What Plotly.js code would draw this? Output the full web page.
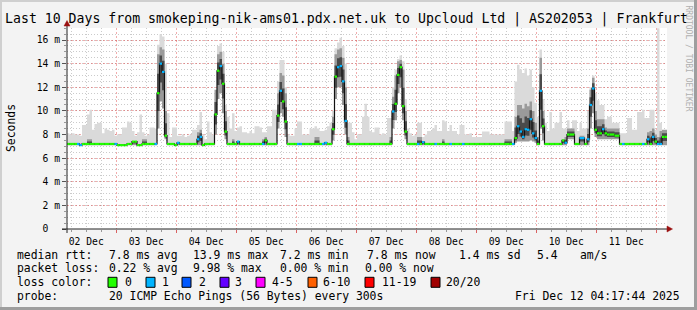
<!DOCTYPE html>
<html>
<head>
<meta charset="utf-8">
<script src="https://cdn.plot.ly/plotly-3.0.1.min.js"></script>
<style>
html,body{margin:0;padding:0;background:#f3f3f3;}
#chart{width:697px;height:310px;}
</style>
</head>
<body>
<div id="chart"></div>
<script>
// ---------- data (hourly steps starting Fri Dec 02 04:17:44) ----------
const startUTC = Date.UTC(2025, 11, 2, 4, 17, 44);
const HOUR = 3600000;

const median = [
7.2,7.2,7.2,7.2,7.2,7.1,7.2,7.2,7.2,7.2,7.2,7.2,7.2,7.2,7.2,7.2,7.2,7.2,7.2,7.2,7.1,7.1,7.1,7.1,
7.2,7.2,7.4,7.4,7.1,7.1,7.2,7.2,7.2,7.2,7.2,7.2,11.5,14.0,13.3,7.9,7.2,7.2,7.2,7.1,7.3,7.2,7.2,7.2,
7.2,7.2,7.2,7.2,7.6,7.8,7.1,7.2,7.2,7.2,7.2,9.7,13.4,13.8,12.3,8.25,7.2,7.2,7.2,7.2,7.4,7.2,7.2,7.2,
7.2,7.2,7.2,7.2,7.2,7.2,7.2,7.5,7.2,7.2,7.2,7.2,9.6,11.7,10.8,9.1,7.2,7.2,7.2,7.2,7.2,7.2,7.2,7.2,
7.2,7.2,7.2,7.2,7.2,7.2,7.2,7.3,7.2,7.2,8.45,12.9,13.7,13.8,12.5,9.15,7.2,7.2,7.2,7.2,7.2,7.2,7.2,7.2,
7.2,7.2,7.2,7.2,7.2,7.2,7.2,7.2,7.2,7.2,9.95,10.6,13.05,13.7,10.4,8.25,7.2,7.2,7.2,7.2,7.2,7.2,7.35,7.2,
7.2,7.2,7.2,7.2,7.2,7.2,7.2,7.2,7.2,7.2,7.2,7.2,7.2,7.2,7.2,7.2,7.2,7.2,7.2,7.2,7.2,7.2,7.2,7.2,
7.2,7.2,7.2,7.2,7.2,7.2,7.2,7.2,7.2,7.2,7.2,7.7,8.7,8.25,7.8,8.45,8.4,9.3,8.1,7.7,7.2,11.7,8.7,7.2,
7.2,7.2,7.2,7.2,7.2,7.2,7.5,7.3,8.0,8.0,8.0,7.2,7.2,7.7,7.7,7.2,7.6,10.5,11.9,8.4,8.1,8.1,8.45,8.1,
8.0,8.0,8.0,7.9,7.9,7.2,7.2,7.2,7.2,7.2,7.2,7.2,7.2,7.2,7.2,7.2,7.6,7.2,7.8,7.4,7.2,7.2,7.8,7.8
];

const lostPings = [
0,0,0,0,1,1,0,0,0,0,0,0,0,0,0,0,0,0,0,1,0,0,0,0,
0,0,0,0,0,0,0,0,0,0,0,1,0,1,1,0,0,0,0,0,1,0,0,0,
0,0,0,0,1,1,0,0,0,0,0,0,0,1,0,0,0,0,0,0,1,0,0,0,
0,0,0,0,0,0,1,0,0,0,0,0,0,1,0,0,0,0,0,0,1,1,0,0,
0,0,0,0,0,0,1,1,0,0,0,0,1,1,1,1,0,0,0,0,0,0,0,0,
0,0,0,0,0,0,0,0,0,0,1,0,0,0,0,0,0,0,0,0,1,0,1,0,
0,0,0,1,0,0,0,0,0,1,0,0,0,0,1,0,0,0,0,0,0,0,0,0,
0,0,0,0,0,0,0,0,0,0,1,0,1,1,1,1,1,1,1,1,0,1,0,0,
0,0,0,0,0,0,0,1,0,0,0,0,0,1,1,0,1,1,1,0,0,0,1,0,
0,0,0,0,0,0,1,0,0,0,0,0,0,0,1,0,1,0,1,0,1,1,0,0
];

const smokeMax = [
8.1,8.0,8.1,8.0,8.0,7.9,8.8,8.8,9.7,10.1,8.4,8.9,9.0,9.0,8.1,8.5,8.4,8.3,8.4,7.9,8.0,8.0,8.6,8.6,
9.1,9.0,8.3,7.9,8.2,9.7,8.2,7.9,8.0,8.6,8.6,8.5,15.6,16.5,16.3,14.0,9.8,7.8,8.6,8.6,7.9,7.9,8.0,7.8,
7.9,8.0,8.4,8.4,8.8,9.9,8.0,7.6,9.1,8.2,8.0,11.5,15.5,15.7,15.0,10.5,9.5,8.5,9.8,8.3,8.6,8.7,8.2,8.2,
8.1,8.3,8.1,8.7,8.7,8.6,8.2,8.2,8.7,8.7,10.1,10.1,12.5,14.3,14.3,12.0,8.0,7.9,7.9,8.5,9.1,9.1,8.0,8.0,
8.0,8.5,8.5,8.7,8.5,8.3,8.3,8.4,8.7,9.0,10.0,15.3,15.8,16.2,15.5,14.0,9.0,9.0,8.2,7.6,8.0,8.0,9.5,10.6,
9.5,8.3,8.2,8.6,8.6,8.0,8.1,8.0,9.4,9.4,12.0,13.5,14.4,14.7,14.2,11.0,8.5,8.1,7.9,8.0,9.0,9.0,7.8,8.0,
8.3,8.3,8.5,8.8,8.3,8.3,9.2,9.1,8.3,8.8,8.3,8.3,8.0,8.8,8.8,8.0,8.0,8.1,7.8,7.8,7.8,7.8,8.25,8.25,
8.25,8.0,8.0,8.0,8.0,8.0,8.0,9.1,9.1,9.1,8.3,12.5,13.9,13.5,13.2,13.6,13.0,13.5,12.0,10.7,9.5,15.2,11.0,9.0,
8.3,9.9,8.5,9.0,9.0,9.9,8.5,8.5,9.2,8.5,9.2,9.2,8.3,9.0,8.5,8.5,10.0,12.0,13.0,11.5,10.9,10.5,10.5,9.3,
9.5,9.5,9.0,9.0,9.0,8.1,8.1,8.1,9.4,9.4,8.4,8.4,9.9,9.9,10.1,9.4,9.4,10.1,10.1,8.4,17.0,9.0,8.0,8.0
];

const smokeHi = [
7.2,7.2,7.2,7.2,7.2,7.2,7.2,7.2,7.6,7.6,7.2,7.2,7.2,7.2,7.2,7.2,7.2,7.2,7.2,7.2,7.2,7.2,7.2,7.2,
7.2,7.2,7.4,7.4,7.2,7.2,7.6,7.6,7.2,7.2,7.2,7.2,14.8,15.4,15.2,10.0,7.2,7.2,7.2,7.2,7.3,7.2,7.2,7.2,
7.2,7.2,7.2,7.2,8.2,8.4,7.2,7.2,7.2,7.2,7.2,11.8,14.8,15.0,14.0,10.0,7.2,7.2,7.6,7.2,7.4,7.2,7.2,7.2,
7.2,7.2,7.2,7.2,7.2,7.2,7.6,7.8,7.2,7.2,7.2,7.2,11.5,13.2,13.0,11.5,7.2,7.2,7.2,7.2,7.2,7.2,7.2,7.2,
7.2,7.2,7.2,7.8,7.8,7.2,7.2,7.3,7.2,7.2,9.5,14.8,15.2,15.3,14.5,12.0,7.8,7.2,7.2,7.2,7.2,7.2,7.2,7.2,
7.2,7.2,7.2,7.2,7.2,7.2,7.2,7.2,7.2,7.8,11.2,13.0,14.2,14.3,13.5,10.0,7.2,7.2,7.2,7.2,7.8,7.8,7.4,7.2,
7.2,7.2,7.2,7.2,7.2,7.2,7.6,7.2,7.2,7.2,7.2,7.2,7.2,7.2,7.2,7.2,7.2,7.2,7.2,7.2,7.2,7.2,7.2,7.2,
7.2,7.2,7.2,7.2,7.2,7.2,7.2,7.6,7.6,7.6,7.2,9.5,10.5,10.5,10.2,10.6,10.4,10.8,10.0,9.0,7.8,14.5,10.0,7.2,
7.2,7.2,7.2,7.2,7.2,7.2,7.5,7.8,8.5,8.5,8.5,7.2,7.2,7.9,7.9,7.2,8.5,11.8,12.8,10.0,9.3,9.3,9.3,8.6,
8.5,8.5,8.5,8.5,8.5,7.2,7.2,7.2,7.2,7.2,7.2,7.2,7.2,7.2,7.2,7.2,8.2,8.3,8.5,8.0,7.8,8.3,8.4,8.4
];

const smokeLo = [
7.1,7.1,7.1,7.1,7.1,7.1,7.1,7.1,7.1,7.1,7.1,7.1,7.1,7.1,7.1,7.1,7.1,7.1,7.1,7.1,7.1,7.1,7.1,7.1,
7.1,7.1,7.1,7.1,7.1,7.1,7.1,7.1,7.1,7.1,7.1,7.1,8.5,10.8,10.2,7.6,7.1,7.1,7.1,7.1,7.1,7.1,7.1,7.1,
7.1,7.1,7.1,7.1,7.1,7.1,7.1,7.1,7.1,7.1,7.1,8.0,11.0,11.5,9.8,7.6,7.1,7.1,7.1,7.1,7.1,7.1,7.1,7.1,
7.1,7.1,7.1,7.1,7.1,7.1,7.1,7.1,7.1,7.1,7.1,7.1,8.5,9.8,9.5,7.8,7.1,7.1,7.1,7.1,7.1,7.1,7.1,7.1,
7.1,7.1,7.1,7.1,7.1,7.1,7.1,7.1,7.1,7.1,7.5,11.0,12.0,12.0,10.5,8.0,7.1,7.1,7.1,7.1,7.1,7.1,7.1,7.1,
7.1,7.1,7.1,7.1,7.1,7.1,7.1,7.1,7.1,7.1,8.5,9.2,11.5,12.0,9.2,7.6,7.1,7.1,7.1,7.1,7.1,7.1,7.1,7.1,
7.1,7.1,7.1,7.1,7.1,7.1,7.1,7.1,7.1,7.1,7.1,7.1,7.1,7.1,7.1,7.1,7.1,7.1,7.1,7.1,7.1,7.1,7.1,7.1,
7.1,7.1,7.1,7.1,7.1,7.1,7.1,7.1,7.1,7.1,7.1,7.3,7.4,7.4,7.4,7.4,7.4,7.5,7.4,7.3,7.1,8.5,7.5,7.1,
7.1,7.1,7.1,7.1,7.1,7.1,7.1,7.1,7.6,7.6,7.6,7.1,7.1,7.1,7.1,7.1,7.1,8.5,9.8,7.8,7.6,7.6,7.6,7.6,
7.6,7.6,7.6,7.6,7.6,7.1,7.1,7.1,7.1,7.1,7.1,7.1,7.1,7.1,7.1,7.1,7.1,7.1,7.1,7.1,7.1,7.1,7.1,7.1
];

const yTickVals = [0, 2, 4, 6, 8, 10, 12, 14, 16];
const yTickText = ['0\u00a0\u00a0', '2 m', '4 m', '6 m', '8 m', '10 m', '12 m', '14 m', '16 m'];

const lossLabels = ['0', '1', '2', '3', '4-5', '6-10', '11-19', '20/20'];
const lossColors = ['#22ff00', '#00b4ff', '#0058ff', '#6400ff', '#ff00ff', '#ff6000', '#ff0000', '#a00000'];

const titleText = 'Last 10 Days from smokeping-nik-ams01.pdx.net.uk to Upcloud Ltd | AS202053 | Frankfurt';
const rttLabel = 'median rtt:';
const rttStats = ['7.8 ms avg', '13.9 ms max', '7.2 ms min', '7.8 ms now', '1.4 ms sd', '5.4', 'am/s'];
const lossLabel = 'packet loss:';
const lossStats = ['0.22 % avg', '9.98 % max', '0.00 % min', '0.00 % now'];
const colorLabel = 'loss color:';
const probeLabel = 'probe:';
const probeText = '20 ICMP Echo Pings (56 Bytes) every 300s';
const stampText = 'Fri Dec 12 04:17:44 2025';
const watermark = 'RRDTOOL / TOBI OETIKER';

// ---------- layout geometry ----------
const W = 697, H = 310, L = 67, R = 30, T = 28, B = 81;
const PW = W - L - R, PH = H - T - B;
const px = x => (x - L) / PW;
const py = y => (H - B - y) / PH;
const MONO = 'DejaVu Sans Mono';

function lossClass(n) {
  if (n <= 0) return 0;
  if (n === 1) return 1;
  if (n === 2) return 2;
  if (n === 3) return 3;
  if (n <= 5) return 4;
  if (n <= 10) return 5;
  if (n <= 19) return 6;
  return 7;
}

const N = median.length;
const times = [];
for (let i = 0; i <= N; i++) times.push(startUTC + i * HOUR);
const ext = a => a.concat([a[a.length - 1]]);
// inner (darkest) smoke band: halfway between the median and the outer dark band
const coreLo = smokeLo.map((v, i) => (v + median[i]) / 2);
const coreHi = smokeHi.map((v, i) => (v + median[i]) / 2);

const traces = [];
const noLine = {width: 0, shape: 'hv', color: 'rgba(0,0,0,0)'};
const band = (lo, hi, color) => {
  traces.push({x: times, y: ext(lo), mode: 'lines', line: noLine, hoverinfo: 'skip', showlegend: false});
  traces.push({x: times, y: ext(hi), mode: 'lines', line: noLine, fill: 'tonexty', fillcolor: color, hoverinfo: 'skip', showlegend: false});
};
band(median, smokeMax, '#dadada');
band(smokeLo, smokeHi, '#9a9a9a');
band(coreLo, coreHi, '#4a4a4a');
traces.push({x: times, y: ext(median), mode: 'lines', line: {shape: 'hv', width: 1.2, color: '#111'}, hoverinfo: 'skip', showlegend: false});

for (let c = 0; c < lossColors.length; c++) {
  const xs = [], ys = [];
  for (let i = 0; i < N; i++) {
    if (lossClass(lostPings[i]) === c) {
      xs.push(times[i], times[i + 1], null);
      ys.push(median[i], median[i], null);
    }
  }
  if (xs.length) traces.push({x: xs, y: ys, mode: 'lines', line: {width: 2.2, color: lossColors[c]}, hoverinfo: 'skip', showlegend: false});
}

// ---------- annotations ----------
const ann = [];
const txt = (x, y, text, opts = {}) => ann.push(Object.assign({
  xref: 'paper', yref: 'paper', x: px(x), y: py(y), text: text, showarrow: false,
  xanchor: 'left', yanchor: 'middle', borderpad: 0,
  font: {family: MONO, size: 11.4, color: '#000'}
}, opts));

const rowY = [254.5, 268.3, 282.3, 296.2];
txt(16, rowY[0], rttLabel);
[108, 192, 279, 366, 458, 536, 579].forEach((x, i) => txt(x, rowY[0], rttStats[i]));
txt(16, rowY[1], lossLabel);
[108, 192, 279, 364].forEach((x, i) => txt(x, rowY[1], lossStats[i]));
txt(16, rowY[2], colorLabel);
const boxX = [108, 146, 182, 220, 256, 308, 365, 431];
const labX = [124, 161, 198, 234, 271, 322, 381, 445];
lossLabels.forEach((s, i) => txt(labX[i], rowY[2], s));
txt(16, rowY[3], probeLabel);
txt(108, rowY[3], probeText);
txt(681, rowY[3], stampText, {xanchor: 'right'});
txt(11, 128, 'Seconds', {xanchor: 'center', textangle: -90});
txt(688.5, 58, watermark, {xanchor: 'center', textangle: 90, font: {family: MONO, size: 8, color: '#b0b0b0'}});

// ---------- shapes ----------
const shapes = [];
const rect = (x0, y0, x1, y1, fill, line) => shapes.push({
  type: 'rect', xref: 'paper', yref: 'paper', x0: px(x0), x1: px(x1), y0: py(y0), y1: py(y1),
  fillcolor: fill, line: line || {width: 0}, layer: 'above'
});
// 3D frame
rect(0, 0, 697, 2, '#cfcfcf');
rect(0, 0, 2, 310, '#cfcfcf');
rect(0, 307, 697, 310, '#9e9e9e');
rect(694, 0, 697, 310, '#9e9e9e');
// loss colour boxes
boxX.forEach((x, i) => rect(x, rowY[2] - 5, x + 9, rowY[2] + 5, lossColors[i], {color: '#000', width: 1}));
// axes + arrows
shapes.push({type: 'line', xref: 'paper', yref: 'paper', x0: px(62), x1: px(668), y0: py(229), y1: py(229), line: {color: '#222', width: 1}, layer: 'above'});
shapes.push({type: 'line', xref: 'paper', yref: 'paper', x0: px(67), x1: px(67), y0: py(233), y1: py(25), line: {color: '#222', width: 1}, layer: 'above'});
shapes.push({type: 'path', xref: 'paper', yref: 'paper',
  path: `M ${px(667)} ${py(226)} L ${px(672.5)} ${py(229)} L ${px(667)} ${py(232)} Z`,
  fillcolor: '#9a1010', line: {color: '#9a1010', width: 0.5}, layer: 'above'});
shapes.push({type: 'path', xref: 'paper', yref: 'paper',
  path: `M ${px(64)} ${py(26)} L ${px(67)} ${py(20.5)} L ${px(70)} ${py(26)} Z`,
  fillcolor: '#9a1010', line: {color: '#9a1010', width: 0.5}, layer: 'above'});

const redGrid = 'rgba(225,70,70,0.45)';
const grayGrid = 'rgba(140,140,140,0.45)';

const layout = {
  width: W, height: H,
  margin: {l: L, r: R, t: T, b: B, pad: 0},
  paper_bgcolor: '#f3f3f3',
  plot_bgcolor: '#ffffff',
  showlegend: false,
  title: {
    text: titleText, xref: 'container', yref: 'container',
    x: 346.5 / W, xanchor: 'center', y: 1 - 18.5 / H, yanchor: 'middle',
    font: {family: MONO, size: 13.2, color: '#000'}
  },
  xaxis: {
    type: 'date',
    range: [startUTC, startUTC + N * HOUR],
    tickmode: 'linear', tick0: '2025-12-02 00:00:00', dtick: 86400000,
    tickformat: '%d %b', ticklabelmode: 'period',
    ticks: 'outside', ticklen: 3, tickcolor: 'rgba(210,60,60,0.8)',
    tickfont: {family: MONO, size: 9.7, color: '#000'},
    showgrid: true, gridcolor: redGrid, griddash: '2px,2px', gridwidth: 1,
    minor: {tick0: '2025-12-02 00:00:00', dtick: 21600000, ticks: 'outside', ticklen: 2,
            tickcolor: '#999', showgrid: true, gridcolor: grayGrid, griddash: '1px,2px'},
    showline: false, zeroline: false, fixedrange: true
  },
  yaxis: {
    range: [0, 201 / 11.81],
    tickmode: 'array', tickvals: yTickVals, ticktext: yTickText,
    ticks: 'outside', ticklen: 4, tickcolor: '#555',
    tickfont: {family: MONO, size: 9.7, color: '#000'},
    showgrid: true, gridcolor: redGrid, griddash: '2px,2px', gridwidth: 1,
    minor: {tickmode: 'linear', tick0: 0, dtick: 0.5, ticks: 'outside', ticklen: 2,
            tickcolor: '#999', showgrid: true, gridcolor: grayGrid, griddash: '1px,2px'},
    showline: false, zeroline: false, fixedrange: true
  },
  annotations: ann,
  shapes: shapes
};

Plotly.newPlot('chart', traces, layout, {staticPlot: true, displayModeBar: false});
</script>
</body>
</html>
